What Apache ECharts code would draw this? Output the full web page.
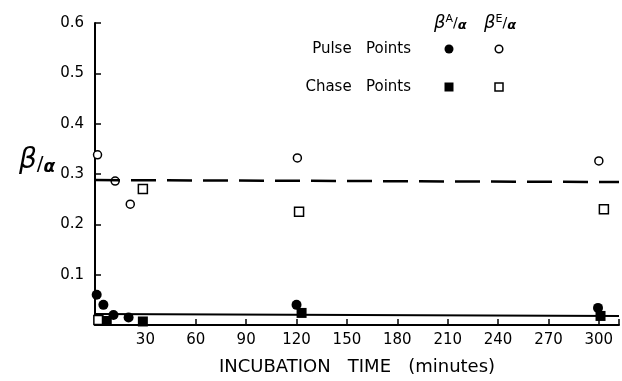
<!DOCTYPE html>
<html>
<head>
<meta charset="utf-8">
<script src="https://cdn.jsdelivr.net/npm/echarts@6/dist/echarts.min.js"></script>
<style>html,body{margin:0;padding:0;background:#fff}#c{width:622px;height:381px}</style>
</head>
<body>
<div id="c"></div>
<script>
// Data (incubation time in minutes, ratio)
var xTicks = [30, 60, 90, 120, 150, 180, 210, 240, 270, 300];
var yTicks = [0.1, 0.2, 0.3, 0.4, 0.5, 0.6];
var pulseA = [[1, 0.060], [5, 0.040], [11, 0.020], [20, 0.015], [120, 0.040], [299.5, 0.034]];
var chaseA = [[7, 0.008], [28.5, 0.007], [123, 0.024], [301, 0.018]];
var pulseE = [[1.5, 0.338], [12, 0.286], [21, 0.240], [120.5, 0.332], [300, 0.326]];
var chaseE = [[2, 0.010], [28.5, 0.270], [121.5, 0.225], [303, 0.230]];
var fitE = [[0, 0.288], [312, 0.284]];
var fitA = [[0, 0.022], [312, 0.018]];

var FONT = 'DejaVu Sans';
var chart = echarts.init(document.getElementById('c'), null, {renderer: 'canvas'});
chart.setOption({
  animation: false,
  backgroundColor: '#fff',
  grid: {left: 95, right: 2, top: 23, bottom: 56, containLabel: false},
  xAxis: {
    type: 'value', min: 0, max: 312, interval: 30,
    axisLine: {show: true, lineStyle: {color: '#000', width: 2}},
    axisTick: {show: true, inside: true, length: 6, lineStyle: {color: '#000', width: 1.5}},
    axisLabel: {
      color: '#000', fontFamily: FONT, fontSize: 15, margin: 8,
      formatter: function (v) { return xTicks.indexOf(v) >= 0 ? String(v) : ''; }
    },
    splitLine: {show: false},
    name: 'INCUBATION   TIME   (minutes)', nameLocation: 'middle', nameGap: 33,
    nameTextStyle: {color: '#000', fontFamily: FONT, fontSize: 18}
  },
  yAxis: {
    type: 'value', min: 0, max: 0.6, interval: 0.1,
    axisLine: {show: true, lineStyle: {color: '#000', width: 2}},
    axisTick: {show: true, inside: true, length: 6, lineStyle: {color: '#000', width: 1.5}},
    axisLabel: {
      color: '#000', fontFamily: FONT, fontSize: 15, margin: 11,
      formatter: function (v) {
        var r = Math.round(v * 10) / 10;
        return yTicks.indexOf(r) >= 0 ? r.toFixed(1) : '';
      }
    },
    splitLine: {show: false}
  },
  series: [
    {type: 'line', data: fitE, symbol: 'none', silent: true,
     lineStyle: {color: '#000', width: 2.5, type: [25, 11], dashOffset: 0}},
    {type: 'line', data: fitA, symbol: 'none', silent: true,
     lineStyle: {color: '#000', width: 2}},
    {type: 'scatter', data: pulseE, symbol: 'circle', symbolSize: 8,
     itemStyle: {color: '#fff', borderColor: '#000', borderWidth: 1.5, opacity: 1}},
    {type: 'scatter', data: chaseE, symbol: 'rect', symbolSize: 9,
     itemStyle: {color: '#fff', borderColor: '#000', borderWidth: 1.5, opacity: 1}},
    {type: 'scatter', data: pulseA, symbol: 'circle', symbolSize: 10,
     itemStyle: {color: '#000', opacity: 1}},
    {type: 'scatter', data: chaseA, symbol: 'rect', symbolSize: 10,
     itemStyle: {color: '#000', opacity: 1}}
  ],
  graphic: [
    {type: 'text', left: 19, top: 147, style: {
      text: '{b|β}{s|/}{a|α}', fill: '#000',
      rich: {
        b: {fontFamily: FONT, fontSize: 28, fontStyle: 'italic', fill: '#000'},
        s: {fontFamily: FONT, fontSize: 20, fill: '#000', padding: [8, 0, 0, 0]},
        a: {fontFamily: FONT, fontSize: 17, fontStyle: 'italic', fontWeight: 'bold', fill: '#000', padding: [14, 0, 0, 0]}
      }
    }},
    {type: 'text', x: 434, y: 14, style: {
      text: '{b|β}{sup|A}{s|/}{a|α}', fill: '#000',
      rich: {
        b: {fontFamily: FONT, fontSize: 18, fontStyle: 'italic', fill: '#000'},
        sup: {fontFamily: FONT, fontSize: 11, fill: '#000', padding: [0, 0, 8, 0]},
        s: {fontFamily: FONT, fontSize: 14, fill: '#000'},
        a: {fontFamily: FONT, fontSize: 13, fontStyle: 'italic', fontWeight: 'bold', fill: '#000', padding: [5, 0, 0, 0]}
      }
    }},
    {type: 'text', x: 484, y: 14, style: {
      text: '{b|β}{sup|E}{s|/}{a|α}', fill: '#000',
      rich: {
        b: {fontFamily: FONT, fontSize: 18, fontStyle: 'italic', fill: '#000'},
        sup: {fontFamily: FONT, fontSize: 11, fill: '#000', padding: [0, 0, 8, 0]},
        s: {fontFamily: FONT, fontSize: 14, fill: '#000'},
        a: {fontFamily: FONT, fontSize: 13, fontStyle: 'italic', fontWeight: 'bold', fill: '#000', padding: [5, 0, 0, 0]}
      }
    }},
    {type: 'text', x: 411, y: 49, style: {text: 'Pulse   Points', fontFamily: FONT, fontSize: 15, fill: '#000', align: 'right', verticalAlign: 'middle'}},
    {type: 'text', x: 411, y: 87, style: {text: 'Chase   Points', fontFamily: FONT, fontSize: 15, fill: '#000', align: 'right', verticalAlign: 'middle'}},
    {type: 'circle', shape: {cx: 449, cy: 49, r: 4.5}, style: {fill: '#000'}},
    {type: 'circle', shape: {cx: 499, cy: 49, r: 3.8}, style: {fill: '#fff', stroke: '#000', lineWidth: 1.5}},
    {type: 'rect', shape: {x: 444.5, y: 82.5, width: 9, height: 9}, style: {fill: '#000'}},
    {type: 'rect', shape: {x: 495, y: 83, width: 8, height: 8}, style: {fill: '#fff', stroke: '#000', lineWidth: 1.5}}
  ]
});
</script>
</body>
</html>
